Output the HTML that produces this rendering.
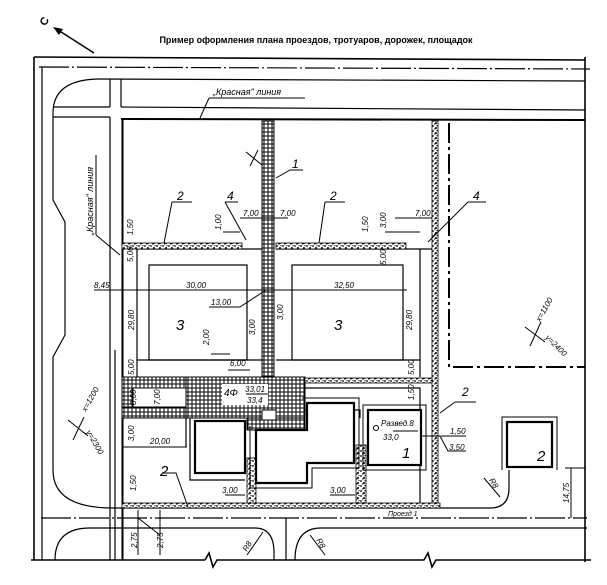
<!DOCTYPE html>
<html><head><meta charset="utf-8"><style>
html,body{margin:0;padding:0;background:#fff}
svg{display:block}
text{font-family:"Liberation Sans",sans-serif;font-style:italic;font-size:8px;fill:#000}
.b{font-size:15px}
</style></head><body>
<svg width="607" height="585" viewBox="0 0 607 585" xmlns="http://www.w3.org/2000/svg">
<defs>
<pattern id="tile" width="4" height="4" patternUnits="userSpaceOnUse"><rect width="4" height="4" fill="#fff" stroke="#000" stroke-width="1"/></pattern>
<pattern id="grav" width="6" height="5" patternUnits="userSpaceOnUse"><rect width="6" height="5" fill="#fff"/><circle cx="1" cy="1" r="0.9"/><circle cx="4" cy="3" r="1"/><rect x="2" y="3.5" width="1.5" height="1"/><rect x="4.5" y="0" width="1" height="1.2"/></pattern>
</defs>
<g fill="none" stroke="#000" stroke-width="1.2">
<polyline points="34,57 585,60" stroke-width="1.6"/>
<line x1="34" y1="57" x2="34" y2="560" stroke-width="1.6"/>
<line x1="42" y1="67" x2="42" y2="560"/>
<line x1="585" y1="57" x2="585" y2="562" stroke-width="1.6"/>
<line x1="39" y1="67" x2="590" y2="69" stroke-dasharray="30,3,2,3"/>
<line x1="31" y1="560" x2="205" y2="560" stroke-width="1.6"/><polyline points="205,560 209,553 213,567 217,560 424,560 428,553 432,567 436,560 591,560" stroke-width="1.6"/>
<path d="M98,79 L585,81"/>
<path d="M98,79 Q53,80 53,113 L53,200 L65,222 L65,335 L53,357 L53,470 Q53,508 113,508"/>
<line x1="121" y1="107" x2="585" y2="110"/>
<line x1="53" y1="107" x2="110" y2="107"/>
<line x1="53" y1="117" x2="110" y2="117"/>
<line x1="110" y1="79" x2="110" y2="107"/><line x1="121" y1="79" x2="121" y2="107"/>
<line x1="110" y1="117" x2="110" y2="560"/><line x1="115" y1="350" x2="115" y2="560"/>
<line x1="121" y1="119" x2="585" y2="120" stroke-width="2"/>
<line x1="122.5" y1="119" x2="122.5" y2="560" stroke-width="2"/>
<line x1="113" y1="508" x2="490" y2="508"/>
<path d="M490,508 Q509,508 509,488 L509,470"/>
<line x1="41" y1="518" x2="587" y2="518" stroke-dasharray="30,3,2,3"/>
<path d="M55,560 Q55,528 90,528 L255,528 Q274,528 274,553 L274,560"/>
<line x1="286" y1="518" x2="286" y2="560"/>
<path d="M295,560 Q295,528 321,528 L587,528"/>
<polyline points="449,123 449,367 585,367" stroke-width="2" stroke-dasharray="20,4,3,4"/>
<rect x="149" y="265" width="98" height="95"/>
<rect x="292" y="265" width="111" height="95"/>
<line x1="137" y1="249" x2="262" y2="249"/>
<line x1="276" y1="249" x2="432" y2="249"/>
<line x1="137" y1="249" x2="137" y2="377"/>
<line x1="137" y1="360" x2="262" y2="360"/>
<line x1="276" y1="360" x2="420" y2="360"/>
<line x1="420" y1="249" x2="420" y2="377"/>
<polyline points="305,388 420,388 420,508"/>
<polyline points="305,410 360,410 360,418"/>
<line x1="186" y1="418" x2="186" y2="447"/>
<polyline points="190,418 190,480 245,480"/>
</g>
<rect x="262" y="121" width="12" height="258" fill="url(#tile)" stroke="#000"/>
<rect x="122" y="377" width="183" height="11" fill="url(#tile)" stroke="#000"/>
<rect x="122" y="388" width="11" height="30" fill="url(#tile)" stroke="#000"/>
<rect x="122" y="407" width="64" height="11" fill="url(#tile)" stroke="#000"/>
<rect x="186" y="377" width="119" height="41" fill="url(#tile)" stroke="#000"/>
<rect x="247" y="418" width="58" height="12" fill="url(#tile)" stroke="#000"/>
<rect x="262" y="410" width="14" height="10" fill="#fff" stroke="#000"/>
<rect x="222" y="384" width="46" height="21" fill="#fff"/>
<rect x="122" y="243" width="120" height="6" fill="url(#grav)" stroke="#000" stroke-width="0.8"/>
<rect x="276" y="243" width="130" height="6" fill="url(#grav)" stroke="#000" stroke-width="0.8"/>
<rect x="432" y="121" width="6" height="387" fill="url(#grav)" stroke="#000" stroke-width="0.8"/>
<rect x="305" y="378" width="127" height="5" fill="url(#grav)" stroke="#000" stroke-width="0.8"/>
<rect x="122" y="503" width="318" height="5" fill="url(#grav)" stroke="#000" stroke-width="0.8"/>
<rect x="247" y="458" width="9" height="45" fill="url(#grav)" stroke="#000" stroke-width="0.8"/>
<rect x="356" y="445" width="10" height="58" fill="url(#grav)" stroke="#000" stroke-width="0.8"/>
<g fill="#fff" stroke="#000" stroke-width="2.2">
<rect x="195" y="421" width="50" height="52"/>
<polygon points="256,430 307,430 307,403 354,403 354,463 307,463 307,483 256,483"/>
<rect x="368" y="410" width="53" height="55"/>
<rect x="507" y="422" width="45" height="45"/>
</g>
<g fill="none" stroke="#000" stroke-width="1">
<polyline points="250,426 250,488 312,488 312,468 359,468 359,398 302,398"/>
<rect x="363" y="405" width="63" height="65"/>
<polyline points="502,470 502,417 557,417 557,470"/>
<polyline points="209,98 305,98"/><line x1="209" y1="98" x2="200" y2="118"/>
<line x1="96" y1="155" x2="96" y2="235"/><line x1="96" y1="235" x2="120" y2="255"/>
<polyline points="276,178 290,170 303,170"/>
<polyline points="172,202 192,202"/><line x1="172" y1="202" x2="164" y2="243"/>
<polyline points="225,202 238,202"/><line x1="225" y1="202" x2="246" y2="240"/>
<polyline points="325,202 345,202"/><line x1="325" y1="202" x2="319" y2="243"/>
<polyline points="468,202 486,202"/><line x1="468" y1="202" x2="428" y2="242"/>
<line x1="94" y1="290" x2="407" y2="290"/>
<line x1="240" y1="218" x2="288" y2="218"/><line x1="395" y1="218" x2="432" y2="218"/>
<line x1="223" y1="232" x2="240" y2="232"/><line x1="385" y1="232" x2="420" y2="232"/>
<polyline points="209,307 240,307 266,290"/>
<line x1="122" y1="447" x2="187" y2="447"/>
<line x1="228" y1="370" x2="250" y2="370"/>
<line x1="211" y1="354" x2="230" y2="354"/>
<polyline points="455,402 476,402"/><line x1="455" y1="402" x2="440" y2="413"/>
<polyline points="420,436 440,436 448,451 466,451"/>
<line x1="441" y1="436" x2="466" y2="436"/>
<polyline points="162,473 176,473 188,507"/>
<line x1="225" y1="495" x2="245" y2="495"/><line x1="330" y1="495" x2="355" y2="495"/>
<line x1="571" y1="468" x2="571" y2="518"/><line x1="565" y1="468" x2="585" y2="468"/>
<line x1="138" y1="510" x2="138" y2="555"/><line x1="160" y1="510" x2="160" y2="555"/>
<line x1="138" y1="518" x2="160" y2="535"/>
<line x1="484" y1="478" x2="500" y2="497"/>
<line x1="247" y1="555" x2="263" y2="532"/><line x1="310" y1="535" x2="325" y2="555"/>
<line x1="393" y1="431" x2="418" y2="431"/>
<line x1="246" y1="394" x2="268" y2="394"/>
<line x1="246" y1="152" x2="262" y2="165"/><line x1="250" y1="166" x2="258" y2="150"/>
<line x1="68" y1="420" x2="88" y2="436"/><line x1="73" y1="440" x2="84" y2="417"/>
<line x1="525" y1="327" x2="545" y2="342"/><line x1="530" y1="346" x2="541" y2="322"/>
<circle cx="376" cy="428" r="2.5"/>
</g>
<line x1="94" y1="53" x2="58" y2="30" stroke="#000" stroke-width="1.5"/>
<polygon points="53,27 63,29 59,35" fill="#000"/>
<text x="40" y="25" style="font-size:11px;font-style:normal;font-weight:bold" transform="rotate(-60 44 21)">С</text>
<text x="316" y="43" text-anchor="middle" style="font-style:normal;font-weight:bold;font-size:9px">Пример оформления плана проездов, тротуаров, дорожек, площадок</text>
<text x="213" y="95" style="font-size:9px">„Красная" линия</text>
<text transform="translate(93,235) rotate(-90)" style="font-size:9px">„Красная" линия</text>
<text class="b" x="292" y="168" style="font-size:12px">1</text>
<text class="b" x="177" y="200" style="font-size:12px">2</text>
<text class="b" x="227" y="200" style="font-size:12px">4</text>
<text class="b" x="330" y="200" style="font-size:12px">2</text>
<text class="b" x="473" y="200" style="font-size:12px">4</text>
<text x="243" y="216">7,00</text><text x="280" y="216">7,00</text><text x="415" y="216">7,00</text>
<text transform="translate(133,235) rotate(-90)">1,50</text>
<text transform="translate(221,230) rotate(-90)">1,00</text>
<text transform="translate(368,232) rotate(-90)">1,50</text>
<text transform="translate(386,228) rotate(-90)">3,00</text>
<text transform="translate(133,262) rotate(-90)">5,00</text>
<text transform="translate(386,265) rotate(-90)">5,00</text>
<text x="94" y="288">8,45</text><text x="186" y="288">30,00</text><text x="334" y="288">32,50</text>
<text x="211" y="305">13,00</text>
<text transform="translate(134,330) rotate(-90)">29,80</text>
<text transform="translate(412,330) rotate(-90)">29,80</text>
<text class="b" x="176" y="330">3</text><text class="b" x="334" y="330">3</text>
<text transform="translate(255,335) rotate(-90)">3,00</text>
<text transform="translate(283,320) rotate(-90)">3,00</text>
<text transform="translate(209,345) rotate(-90)">2,00</text>
<text x="230" y="366">6,00</text>
<text transform="translate(134,375) rotate(-90)">5,00</text>
<text transform="translate(414,375) rotate(-90)">5,00</text>
<text transform="translate(136,405) rotate(-90)">8,00</text>
<text transform="translate(160,405) rotate(-90)">7,00</text>
<text x="224" y="396" style="font-size:10px">4Φ</text>
<text x="245" y="392">33,01</text><text x="247" y="403">33,4</text>
<text transform="translate(414,400) rotate(-90)">1,50</text>
<text class="b" x="462" y="396" style="font-size:12px">2</text>
<text x="381" y="426">Развед.8</text><text x="383" y="440">33,0</text>
<text class="b" x="402" y="458">1</text>
<text x="450" y="434">1,50</text><text x="449" y="450">3,50</text>
<text transform="translate(134,441) rotate(-90)">3,00</text>
<text x="150" y="444">20,00</text>
<text class="b" x="160" y="476">2</text>
<text class="b" x="537" y="461">2</text>
<text transform="translate(136,491) rotate(-90)">1,50</text>
<text x="222" y="493">3,00</text><text x="330" y="493">3,00</text>
<text transform="translate(489,480) rotate(60)">R8</text>
<text transform="translate(569,503) rotate(-90)">14,75</text>
<text x="388" y="516" style="font-size:7px">Проезд 1</text>
<text transform="translate(137,548) rotate(-90)">2,75</text>
<text transform="translate(163,548) rotate(-90)">2,75</text>
<text transform="translate(247,552) rotate(-60)">R8</text>
<text transform="translate(316,540) rotate(60)">R8</text>
<text transform="translate(86,412) rotate(-60)">x=1200</text>
<text transform="translate(86,432) rotate(60)">y=2300</text>
<text transform="translate(540,322) rotate(-60)">x=1100</text>
<text transform="translate(545,338) rotate(45)">y=2400</text>
</svg>
</body></html>
